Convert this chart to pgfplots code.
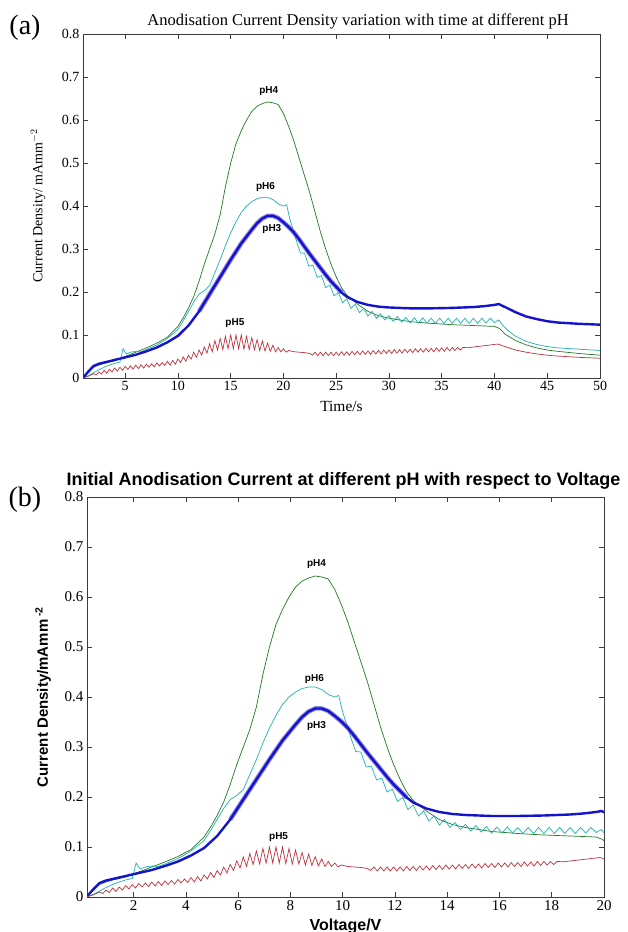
\documentclass[border=0pt]{standalone}
\usepackage{pgfplots}
\pgfplotsset{compat=1.18}
\usepackage{pgfplotstable}
\usepackage{fontspec}
\setmainfont{Liberation Serif}
\newfontfamily\arialfont{Liberation Sans}

\definecolor{cgreen}{RGB}{36,120,36}
\definecolor{ccyan}{RGB}{30,178,178}
\definecolor{cblue}{RGB}{20,20,205}
\definecolor{cband}{RGB}{110,100,215}
\definecolor{cred}{RGB}{190,50,60}
\definecolor{caxis}{RGB}{60,60,60}

% pH4
\pgfplotstableread{
t v
1 0
1.5 0.012
2 0.025
2.5 0.03
3 0.034
4 0.04
5 0.05
6 0.06
7 0.07
8 0.081
9 0.095
10 0.12
10.5 0.14
11 0.163
11.5 0.19
12 0.225
12.5 0.265
13 0.30
13.5 0.335
14 0.38
14.5 0.445
15 0.50
15.5 0.545
16 0.575
16.5 0.60
17 0.62
17.5 0.632
18 0.638
18.5 0.642
19 0.640
19.5 0.636
20 0.615
20.5 0.585
21 0.55
21.5 0.51
22 0.47
22.5 0.43
23 0.385
23.5 0.34
24 0.30
24.5 0.265
25 0.235
25.5 0.21
26 0.193
27 0.172
28 0.155
29 0.145
30 0.139
32 0.131
34 0.127
36 0.124
38 0.122
40 0.12
40.5 0.115
41 0.102
42 0.087
43 0.077
44 0.07
45 0.065
46 0.062
48 0.057
50 0.053
}\greentab

% pH6
\pgfplotstableread{
t v
1 0
1.5 0.005
2 0.012
2.5 0.019
3 0.025
3.5 0.03
4 0.034
4.5 0.037
4.8 0.068
5.1 0.056
5.5 0.06
6 0.062
6.5 0.061
7 0.066
8 0.077
9 0.092
10 0.113
10.5 0.133
11 0.155
11.5 0.177
12 0.195
12.5 0.203
13 0.215
13.5 0.245
14 0.275
14.5 0.308
15 0.338
15.5 0.363
16 0.385
16.5 0.4
17 0.41
17.5 0.417
18 0.42
18.5 0.42
19 0.415
19.5 0.405
20 0.40
20.3 0.403
20.6 0.37
21.0 0.338
21.2 0.321
21.6 0.291
22.0 0.290
22.4 0.260
22.8 0.262
23.2 0.234
23.6 0.238
24.0 0.210
24.4 0.216
24.8 0.191
25.2 0.199
25.6 0.175
26.0 0.184
26.4 0.162
26.8 0.172
27.2 0.152
27.6 0.162
28.0 0.144
28.4 0.155
28.8 0.139
29.2 0.149
29.6 0.135
30.0 0.145
30.4 0.132
30.8 0.143
31.2 0.130
31.6 0.141
32.0 0.128
32.4 0.140
32.8 0.128
33.2 0.140
33.6 0.128
34.0 0.139
34.4 0.127
34.8 0.139
35.2 0.127
35.6 0.139
36.0 0.127
36.4 0.139
36.8 0.127
37.2 0.139
37.6 0.127
38.0 0.139
38.4 0.127
38.8 0.139
39.2 0.128
39.6 0.139
40.0 0.129
40.4 0.135
40.8 0.122
41.2 0.112
42 0.097
43 0.085
44 0.078
45 0.073
46 0.07
48 0.067
50 0.064
}\cyantab

% pH3
\pgfplotstableread{
t v
1 0
1.5 0.015
2 0.028
2.5 0.033
3 0.036
4 0.042
5 0.048
6 0.054
7 0.062
8 0.071
9 0.083
10 0.098
11 0.122
12 0.155
13 0.195
14 0.235
15 0.275
16 0.313
17 0.345
17.5 0.36
18 0.371
18.5 0.377
19 0.377
19.5 0.372
20 0.362
20.5 0.351
21 0.338
21.5 0.322
22 0.305
22.5 0.288
23 0.272
23.5 0.256
24 0.24
24.5 0.225
25 0.212
25.5 0.199
26 0.189
27 0.177
28 0.17
29 0.166
30 0.164
32 0.162
34 0.162
36 0.163
38 0.165
39 0.167
40 0.17
40.4 0.172
41 0.165
42 0.153
43 0.143
44 0.137
45 0.132
46 0.129
48 0.126
50 0.124
}\bluetab

\pgfplotstableread{
t v
12 0.155
13 0.195
14 0.235
15 0.275
16 0.313
17 0.345
17.5 0.36
18 0.371
18.5 0.377
19 0.377
19.5 0.372
20 0.362
20.5 0.351
21 0.338
21.5 0.322
22 0.305
22.5 0.288
23 0.272
23.5 0.256
24 0.24
24.5 0.225
25 0.212
25.5 0.199
}\bandtab

% pH5
\pgfplotstableread{
t v
1 0
1.5 0.004
2.00 0.010
2.25 0.007
2.50 0.014
2.75 0.009
3.00 0.018
3.25 0.011
3.50 0.020
3.75 0.014
4.00 0.023
4.25 0.016
4.50 0.025
4.75 0.018
5.00 0.027
5.25 0.020
5.50 0.028
5.75 0.021
6.00 0.030
6.25 0.022
6.50 0.031
6.75 0.023
7.00 0.032
7.25 0.025
7.50 0.033
7.75 0.026
8.00 0.035
8.25 0.028
8.50 0.036
8.75 0.029
9.00 0.039
9.25 0.030
9.50 0.041
9.75 0.032
10.00 0.044
10.25 0.036
10.50 0.049
10.75 0.039
11.00 0.053
11.25 0.044
11.50 0.060
11.75 0.048
12.00 0.065
12.25 0.053
12.50 0.072
12.75 0.058
13.00 0.080
13.25 0.061
13.50 0.087
13.75 0.065
14.00 0.092
14.25 0.066
14.50 0.097
14.75 0.068
15.00 0.100
15.25 0.068
15.50 0.100
15.75 0.068
16.00 0.100
16.25 0.067
16.50 0.097
16.75 0.066
17.00 0.094
17.25 0.066
17.50 0.089
17.75 0.064
18.00 0.086
18.25 0.063
18.50 0.081
18.75 0.062
19.00 0.076
19.25 0.061
19.50 0.071
19.75 0.061
20.00 0.068
20.25 0.060
20.50 0.064
21.0 0.061
21.5 0.060
22.0 0.059
22.5 0.057
22.75 0.053
23.00 0.060
23.25 0.052
23.50 0.060
23.75 0.052
24.00 0.060
24.25 0.052
24.50 0.060
24.75 0.052
25.00 0.060
25.25 0.052
25.50 0.061
25.75 0.053
26.00 0.061
26.25 0.053
26.50 0.062
26.75 0.054
27.00 0.062
27.25 0.054
27.50 0.063
27.75 0.055
28.00 0.063
28.25 0.055
28.50 0.064
28.75 0.056
29.00 0.064
29.25 0.056
29.50 0.065
29.75 0.057
30.00 0.065
30.25 0.057
30.50 0.066
30.75 0.058
31.00 0.066
31.25 0.058
31.50 0.067
31.75 0.059
32.00 0.067
32.25 0.059
32.50 0.068
32.75 0.060
33.00 0.068
33.25 0.060
33.50 0.069
33.75 0.061
34.00 0.069
34.25 0.061
34.50 0.070
34.75 0.062
35.00 0.070
35.25 0.062
35.50 0.071
35.75 0.063
36.00 0.071
36.25 0.064
36.50 0.071
36.75 0.065
37.00 0.071
37.5 0.0705
38 0.072
39 0.075
40.3 0.079
41 0.073
42 0.065
43 0.060
44 0.056
45 0.053
46 0.051
48 0.048
50 0.046
}\redtab

\pgfplotsset{
  panel/.style={
    scale only axis, anchor=south west,
    ymin=0, ymax=0.8,
    ytick={0,0.1,0.2,0.3,0.4,0.5,0.6,0.7,0.8},
    tick align=inside, major tick length=5pt,
    axis line style={caxis, line width=0.8pt},
    every tick/.style={caxis, line width=0.6pt},
    /pgf/number format/assume math mode=true,
    yticklabel style={/pgf/number format/fixed, /pgf/number format/precision=1},
    xticklabel style={/pgf/number format/fixed},
  },
  g/.style={cgreen, line width=0.7pt},
  c/.style={ccyan, line width=0.7pt},
  r/.style={cred, line width=0.7pt},
  bb/.style={cband, line width=4.5pt, opacity=0.75},
  b/.style={cblue, line width=2.4pt},
}

\newcommand{\phfont}{\arialfont\bfseries\fontsize{10}{10}\selectfont}

\begin{document}
\begin{tikzpicture}[x=1pt,y=1pt]
\useasboundingbox (0,0) rectangle (627,932);
\fill[white] (0,0) rectangle (627,932);

% ---------- panel (a)
\begin{axis}[panel, at={(83pt,554pt)}, width=517pt, height=344pt,
  xmin=1, xmax=50, xtick={5,10,15,20,25,30,35,40,45,50},
  ticklabel style={font=\fontsize{14}{14}\selectfont},
  xlabel={Time/s},
  xlabel style={font=\fontsize{15.5}{15.5}\selectfont, at={(axis description cs:0.5,-0.084)}, anchor=center},
  ylabel={Current Density/ mAmm$^{-2}$},
  ylabel style={font=\fontsize{14}{14}\selectfont, at={(axis description cs:-0.087,0.5)}, anchor=center},
]
\addplot[g] table[x=t,y=v]{\greentab};
\addplot[c] table[x=t,y=v]{\cyantab};
\addplot[bb] table[x=t,y=v]{\bandtab};
\addplot[b] table[x=t,y=v]{\bluetab};
\addplot[r] table[x=t,y=v]{\redtab};
\node[font=\phfont] at (axis cs:18.6,0.668) {pH4};
\node[font=\phfont] at (axis cs:18.3,0.445) {pH6};
\node[font=\phfont] at (axis cs:18.9,0.347) {pH3};
\node[font=\phfont] at (axis cs:15.4,0.127) {pH5};
\end{axis}

% ---------- panel (b)
\begin{axis}[panel, at={(87pt,35pt)}, width=517pt, height=400pt,
  xmin=0.22, xmax=20, xtick={2,4,6,8,10,12,14,16,18,20},
  ticklabel style={font=\fontsize{15}{15}\selectfont},
  xlabel={\arialfont\bfseries Voltage/V},
  xlabel style={font=\fontsize{16}{16}\selectfont, at={(axis description cs:0.5,-0.0725)}, anchor=center},
  ylabel={\arialfont\bfseries Current Density/mAmm\textsuperscript{ -2}},
  ylabel style={font=\fontsize{15}{15}\selectfont, at={(axis description cs:-0.085,0.5)}, anchor=center},
]
\addplot[g] table[x expr=\thisrow{t}/2-0.3,y=v]{\greentab};
\addplot[c] table[x expr=\thisrow{t}/2-0.3,y=v]{\cyantab};
\addplot[bb] table[x expr=\thisrow{t}/2-0.3,y=v]{\bandtab};
\addplot[b] table[x expr=\thisrow{t}/2-0.3,y=v]{\bluetab};
\addplot[r] table[x expr=\thisrow{t}/2-0.3,y=v]{\redtab};
\node[font=\phfont] at (axis cs:9.0,0.665) {pH4};
\node[font=\phfont] at (axis cs:8.92,0.435) {pH6};
\node[font=\phfont] at (axis cs:9.0,0.342) {pH3};
\node[font=\phfont] at (axis cs:7.55,0.12) {pH5};
\end{axis}

% ---------- titles and panel letters
\node[font=\fontsize{16.5}{18}\selectfont] at (358,911) {Anodisation Current Density variation with time at different pH};
\node[font=\arialfont\bfseries\fontsize{18}{20}\selectfont] at (343.5,451) {Initial Anodisation Current at different pH with respect to Voltage};
\node[font=\fontsize{28}{30}\selectfont] at (25,904) {(a)};
\node[font=\fontsize{28}{30}\selectfont] at (25,432) {(b)};
\end{tikzpicture}
\end{document}
